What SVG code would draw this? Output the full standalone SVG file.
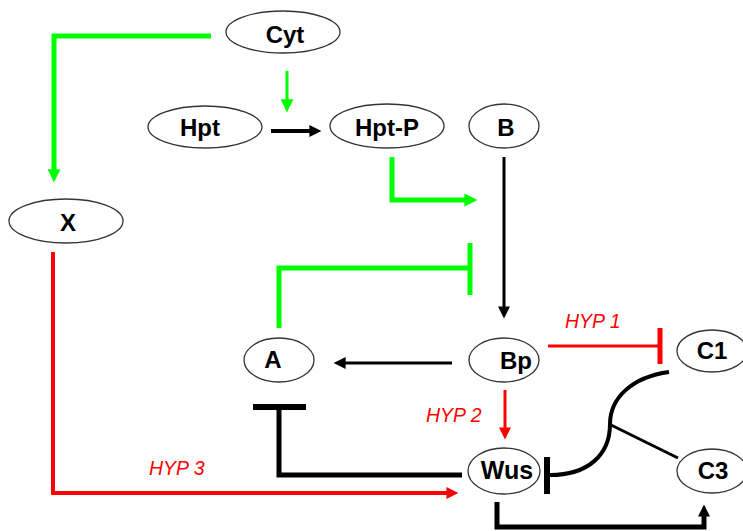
<svg xmlns="http://www.w3.org/2000/svg" width="743" height="531" viewBox="0 0 743 531">
<defs>
<style>
.node ellipse{fill:#fff;stroke:#333;stroke-width:1.3}
.node text{font-family:"Liberation Sans",Arial,sans-serif;font-weight:bold;font-size:24px;fill:#000;text-anchor:middle}
.hyp{font-family:"Liberation Sans",Arial,sans-serif;font-style:italic;font-size:19.5px;fill:#ff0000}
.e{fill:none;stroke-linejoin:miter}
.g{stroke:#00ff00}
.k{stroke:#000}
.r{stroke:#ff0000}
</style>
<marker id="ag" viewBox="0 0 10 10" refX="0.5" refY="5" markerUnits="userSpaceOnUse" markerWidth="13" markerHeight="13" orient="auto"><path d="M0,0 L10,5 L0,10 z" fill="#00ff00"/></marker>
<marker id="ak" viewBox="0 0 10 10" refX="0.5" refY="5" markerUnits="userSpaceOnUse" markerWidth="13" markerHeight="12" orient="auto"><path d="M0,0 L10,5 L0,10 z" fill="#000"/></marker>
<marker id="ar" viewBox="0 0 10 10" refX="0.5" refY="5" markerUnits="userSpaceOnUse" markerWidth="13" markerHeight="12" orient="auto"><path d="M0,0 L10,5 L0,10 z" fill="#ff0000"/></marker>
</defs>
<rect width="743" height="531" fill="#fff"/>
<g id="connectors">
<path class="e g" stroke-width="5" d="M211,36 H54 V170" marker-end="url(#ag)"/>
<path class="e g" stroke-width="3" d="M287,71 V100" marker-end="url(#ag)"/>
<path class="e k" stroke-width="4" d="M271,131 H310" marker-end="url(#ak)"/>
<path class="e g" stroke-width="5" d="M392,157 V200 H465" marker-end="url(#ag)"/>
<path class="e k" stroke-width="3" d="M504,157 V307" marker-end="url(#ak)"/>
<path class="e k" stroke-width="3" d="M452,363 H345" marker-end="url(#ak)"/>
<path class="e g" stroke-width="5" d="M279,328 V268 H470"/>
<path class="e g" stroke-width="5" d="M470,243 V295"/>
<path class="e r" stroke-width="3" d="M548,346 H660"/>
<path class="e r" stroke-width="5" d="M660,328 V364"/>
<path class="e r" stroke-width="3" d="M505,390 V428" marker-end="url(#ar)"/>
<path class="e r" stroke-width="4" d="M53,252 V493 H447" marker-end="url(#ar)"/>
<path class="e k" stroke-width="5" d="M462,475 H279 V407"/>
<path class="e k" stroke-width="6" d="M253,407 H306"/>
<path class="e k" stroke-width="5" d="M497,502 V527 H704 V516" marker-end="url(#ak)"/>
<path class="e k" stroke-width="4" d="M669,372 C632,377 610,398 610,424 C610,455 588,475 550,475"/>
<path class="e k" stroke-width="6" d="M547,457 V494"/>
<path class="e k" stroke-width="3" d="M611,425 L678,458"/>
</g>
<g id="n-cyt" class="node"><ellipse cx="283" cy="32" rx="57" ry="21"/><text x="285" y="43">Cyt</text></g>
<g id="n-hpt" class="node"><ellipse cx="205" cy="127" rx="57" ry="21"/><text x="200" y="136">Hpt</text></g>
<g id="n-hptp" class="node"><ellipse cx="387" cy="126" rx="57" ry="22"/><text x="387" y="136">Hpt-P</text></g>
<g id="n-b" class="node"><ellipse cx="504" cy="126" rx="35" ry="22"/><text x="506" y="136">B</text></g>
<g id="n-x" class="node"><ellipse cx="66" cy="221" rx="57" ry="22"/><text x="68" y="231">X</text></g>
<g id="n-a" class="node"><ellipse cx="279" cy="360" rx="35" ry="22"/><text x="273" y="368">A</text></g>
<g id="n-bp" class="node"><ellipse cx="504" cy="360" rx="35" ry="22"/><text x="516" y="369">Bp</text></g>
<g id="n-c1" class="node"><ellipse cx="712" cy="351" rx="35" ry="21"/><text x="712" y="359">C1</text></g>
<g id="n-wus" class="node"><ellipse cx="504" cy="471" rx="36" ry="23"/><text x="507" y="479" style="font-size:25px">Wus</text></g>
<g id="n-c3" class="node"><ellipse cx="712" cy="471" rx="35" ry="22"/><text x="713" y="479">C3</text></g>
<g id="labels">
<text class="hyp" x="565" y="328">HYP 1</text>
<text class="hyp" x="426" y="422">HYP 2</text>
<text class="hyp" x="149" y="475">HYP 3</text>
</g>
</svg>
